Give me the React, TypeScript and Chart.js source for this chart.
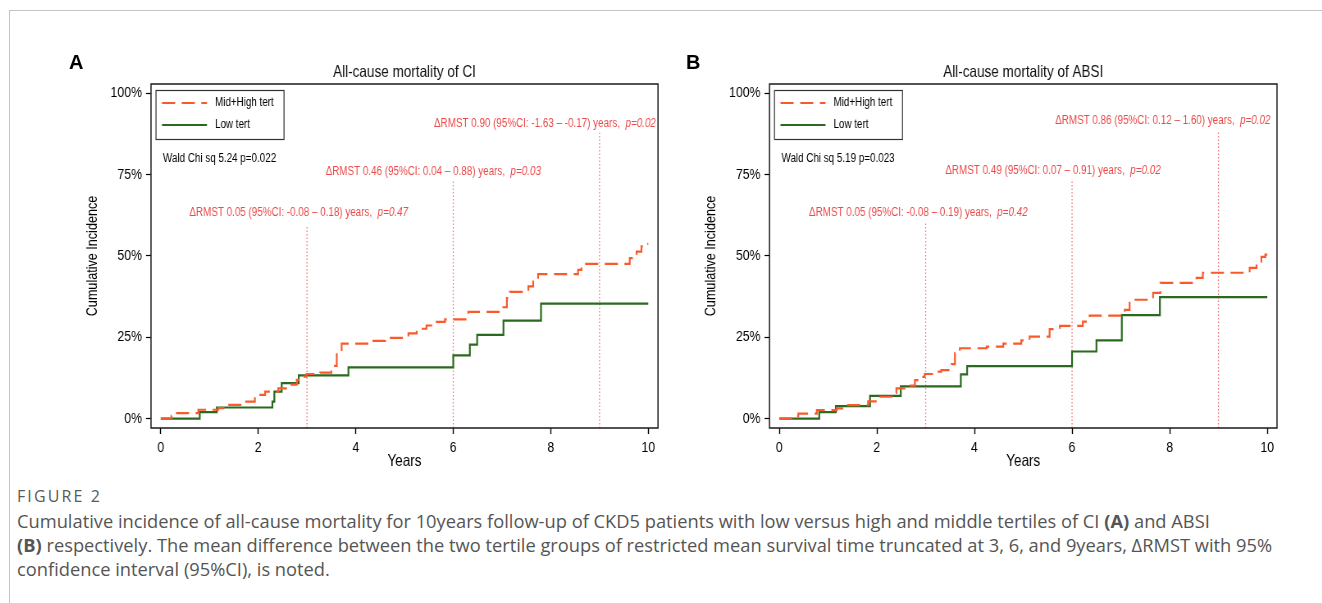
import React, { useEffect, useRef } from "react";
import { Chart, registerables } from "chart.js";
Chart.register(...registerables);

// ---------- data ----------
const xTickValues = [0, 2, 4, 6, 8, 10];
const yTickValues = [0, 25, 50, 75, 100];
const refTimes = [3, 6, 9];

const aHighTimes = [0, 0.22, 0.33, 0.77, 1.18, 1.32, 1.69, 1.93, 2.14, 2.41, 2.62, 2.79, 2.92, 2.99, 3.27, 3.5, 3.61, 3.71, 4.29, 4.6, 5.08, 5.25, 5.45, 5.62, 5.83, 6.31, 6.99, 7.1, 7.16, 7.54, 7.64, 7.74, 8.56, 8.63, 9.62, 9.76, 9.86, 9.97, 10];
const aHighValues = [0, 0.8, 1.7, 2.7, 3.2, 4.2, 5.2, 7.3, 8.3, 9.3, 10.4, 11.9, 12.9, 13.7, 14.1, 16.2, 20.1, 23.0, 23.9, 24.8, 26.2, 27.6, 28.6, 29.7, 30.5, 32.8, 34.2, 37.0, 38.9, 40.6, 42.1, 44.4, 45.7, 47.5, 49.3, 51.3, 52.9, 53.7, 53.7];
const aLowTimes = [0, 0.8, 1.15, 2.29, 2.33, 2.48, 2.83, 3.85, 6.0, 6.34, 6.49, 7.03, 7.8, 10];
const aLowValues = [0, 2.0, 3.4, 5.2, 8.3, 10.9, 13.3, 15.7, 19.4, 22.7, 25.7, 30.1, 35.3, 35.3];
const aRefTops = [59.2, 73.4, 87.8];
const aNoteTexts = ["ΔRMST 0.05 (95%CI: -0.08 – 0.18) years,  ", "ΔRMST 0.46 (95%CI: 0.04 – 0.88) years,  ", "ΔRMST 0.90 (95%CI: -1.63 – -0.17) years,  "];
const aNoteP = ["p=0.47", "p=0.03", "p=0.02"];
const aNoteX = [2.83, 5.59, 7.88];
const aNoteY = [63.2, 75.8, 90.6];

const bHighTimes = [0, 0.25, 0.39, 0.77, 1.18, 1.35, 1.82, 2.03, 2.33, 2.4, 2.64, 2.78, 2.88, 2.98, 3.15, 3.32, 3.53, 3.6, 3.7, 4.25, 4.59, 4.96, 5.13, 5.54, 5.75, 6.22, 6.36, 7.08, 7.18, 7.66, 7.81, 8.55, 8.68, 9.64, 9.78, 9.88, 9.96, 10];
const bHighValues = [0, 0.7, 1.5, 2.6, 3.1, 4.1, 5.3, 6.7, 7.9, 9.3, 10.1, 11.8, 12.8, 13.7, 14.4, 14.9, 16.7, 20.1, 21.6, 22.1, 23.0, 24.0, 25.2, 27.5, 28.5, 29.8, 31.6, 33.4, 36.5, 38.6, 41.7, 43.2, 44.8, 46.3, 48.3, 49.7, 50.4, 50.4];
const bLowTimes = [0, 0.82, 1.16, 1.86, 2.49, 3.72, 3.85, 6.0, 6.5, 7.02, 7.8, 10];
const bLowValues = [0, 2.0, 3.8, 7.0, 9.9, 13.6, 16.1, 20.6, 24.0, 31.8, 37.3, 37.3];
const bRefTops = [60.3, 73.5, 88.0];
const bNoteTexts = ["ΔRMST 0.05 (95%CI: -0.08 – 0.19) years,  ", "ΔRMST 0.49 (95%CI: 0.07 – 0.91) years,  ", "ΔRMST 0.86 (95%CI: 0.12 – 1.60) years,  "];
const bNoteP = ["p=0.42", "p=0.02", "p=0.02"];
const bNoteX = [2.85, 5.61, 7.86];
const bNoteY = [63.2, 76.1, 91.4];

const seriesLabels = ["Mid+High tert", "Low tert"];
const yTitle = "Cumulative Incidence";
const xTitle = "Years";

// ---------- style ----------
// The Stata graph uses a narrow face; the canvas bitmap is drawn wider and
// displayed at K of its width so every glyph is horizontally condensed.
const CANVAS_W = 620;
const CANVAS_H = 445;
const INNER_W = 756;
const K = CANVAS_W / INNER_W;
const FONT = '"Liberation Sans", Arial, sans-serif';
const ORANGE = "#f85a2c";
const GREEN = "#2a6a1f";
const REF = "#f07c7c";
const NOTE = "#ec4a4a";
const X_MIN = -0.2;
const X_MAX = 10.2;
const Y_MIN = -2.9;
const Y_MAX = 102.8;

type Spec = {
  title: string;
  wald: string;
  highT: number[]; highV: number[];
  lowT: number[]; lowV: number[];
  refTops: number[];
  notes: string[]; noteP: string[]; noteX: number[]; noteY: number[];
  padLeft: number; padRight: number; yAxisW: number; // display px
};

function makePlugin(s: Spec, id: string) {
  return {
    id,
    afterDatasetsDraw(chart: any) {
      const { ctx, chartArea: ca, scales } = chart;
      const xs = scales.x, ys = scales.y;
      ctx.save();
      // plot frame
      ctx.strokeStyle = "#1a1a1a";
      ctx.lineWidth = 1.5;
      ctx.setLineDash([]);
      ctx.strokeRect(ca.left, ca.top, ca.right - ca.left, ca.bottom - ca.top);
      ctx.textBaseline = "middle";
      // title
      ctx.font = "16.5px " + FONT;
      ctx.textAlign = "center";
      ctx.fillStyle = "#111";
      ctx.fillText(s.title, (ca.left + ca.right) / 2, ca.top - 12);
      // y axis title (rotated, narrow along its length)
      ctx.save();
      ctx.translate(ca.left - 58 / K, (ca.top + ca.bottom) / 2);
      ctx.rotate(-Math.PI / 2);
      ctx.scale(0.84, 1 / K);
      ctx.font = "15px " + FONT;
      ctx.fillStyle = "#000";
      ctx.fillText(yTitle, 0, 0);
      ctx.restore();
      // legend box
      const bx = ca.left + 5 / K, by = ca.top + 6, bw = 128 / K, bh = 49;
      ctx.fillStyle = "#fff";
      ctx.fillRect(bx, by, bw, bh);
      ctx.strokeStyle = "#333";
      ctx.lineWidth = 1.2;
      ctx.strokeRect(bx, by + 0.5, bw, bh);
      const ds = chart.data.datasets;
      for (let i = 0; i < 2; i++) {
        const ly = by + 13 + i * 22;
        ctx.beginPath();
        ctx.strokeStyle = ds[i].borderColor;
        ctx.lineWidth = ds[i].borderWidth;
        ctx.setLineDash(ds[i].borderDash || []);
        ctx.moveTo(bx + 6 / K, ly);
        ctx.lineTo(bx + 51 / K, ly);
        ctx.stroke();
        ctx.setLineDash([]);
        ctx.fillStyle = "#000";
        ctx.textAlign = "left";
        ctx.font = "12px " + FONT;
        ctx.fillText(ds[i].label, bx + 59 / K, ly);
      }
      // Wald text
      ctx.fillStyle = "#000";
      ctx.font = "12px " + FONT;
      ctx.fillText(s.wald, ca.left + 12 / K, ca.top + 75);
      // RMST notes
      for (let i = 0; i < s.notes.length; i++) {
        ctx.font = "12px " + FONT;
        const w1 = ctx.measureText(s.notes[i]).width;
        ctx.font = "italic 12px " + FONT;
        const w2 = ctx.measureText(s.noteP[i]).width;
        const x0 = xs.getPixelForValue(s.noteX[i]) - (w1 + w2) / 2;
        const y0 = ys.getPixelForValue(s.noteY[i]);
        ctx.fillStyle = NOTE;
        ctx.font = "12px " + FONT;
        ctx.fillText(s.notes[i], x0, y0);
        ctx.font = "italic 12px " + FONT;
        ctx.fillText(s.noteP[i], x0 + w1, y0);
      }
      ctx.restore();
    },
  };
}

function buildConfig(s: Spec, id: string): any {
  const pts = (t: number[], v: number[]) => t.map((x, i) => ({ x, y: v[i] }));
  const refs = refTimes.map((t, i) => ({
    label: "ref" + t,
    data: [{ x: t, y: Y_MIN }, { x: t, y: s.refTops[i] }],
    borderColor: REF,
    borderWidth: 1.3,
    borderDash: [1.5, 2],
    pointRadius: 0,
    fill: false,
  }));
  return {
    type: "line",
    data: {
      datasets: [
        { label: seriesLabels[0], data: pts(s.highT, s.highV), borderColor: ORANGE, borderWidth: 2.2, borderDash: [16, 8], stepped: true, pointRadius: 0, fill: false },
        { label: seriesLabels[1], data: pts(s.lowT, s.lowV), borderColor: GREEN, borderWidth: 2.2, stepped: true, pointRadius: 0, fill: false },
        ...refs,
      ],
    },
    options: {
      animation: false,
      responsive: false,
      devicePixelRatio: 1,
      layout: { padding: { left: s.padLeft / K, right: s.padRight / K, top: 44, bottom: 13.4 } },
      plugins: { legend: { display: false }, tooltip: { enabled: false } },
      scales: {
        x: {
          type: "linear",
          min: X_MIN,
          max: X_MAX,
          afterBuildTicks: (sc: any) => { sc.ticks = xTickValues.map((v) => ({ value: v })); },
          afterFit: (sc: any) => { sc.height = 43.6; },
          grid: { drawOnChartArea: false, drawTicks: true, tickLength: 6, tickColor: "#000", tickWidth: 1.4 },
          border: { display: false },
          ticks: { color: "#000", font: { family: FONT, size: 15 }, padding: 5, maxRotation: 0, autoSkip: false },
          title: { display: true, text: xTitle, color: "#000", font: { family: FONT, size: 16.5 }, padding: 0 },
        },
        y: {
          type: "linear",
          min: Y_MIN,
          max: Y_MAX,
          afterBuildTicks: (sc: any) => { sc.ticks = yTickValues.map((v) => ({ value: v })); },
          afterFit: (sc: any) => { sc.width = s.yAxisW / K; },
          grid: { drawOnChartArea: false, drawTicks: true, tickLength: 5 / K, tickColor: "#000", tickWidth: 1.2 },
          border: { display: false },
          ticks: { color: "#000", font: { family: FONT, size: 15 }, padding: 4 / K, callback: (v: any) => v + "%" },
          title: { display: false },
        },
      },
    },
    plugins: [makePlugin(s, id)],
  };
}

const specA: Spec = {
  title: "All-cause mortality of CI", wald: "Wald Chi sq 5.24 p=0.022",
  highT: aHighTimes, highV: aHighValues, lowT: aLowTimes, lowV: aLowValues, refTops: aRefTops,
  notes: aNoteTexts, noteP: aNoteP, noteX: aNoteX, noteY: aNoteY,
  padLeft: 26.6, padRight: 22, yAxisW: 64.4,
};
const specB: Spec = {
  title: "All-cause mortality of ABSI", wald: "Wald Chi sq 5.19 p=0.023",
  highT: bHighTimes, highV: bHighValues, lowT: bLowTimes, lowV: bLowValues, refTops: bRefTops,
  notes: bNoteTexts, noteP: bNoteP, noteX: bNoteX, noteY: bNoteY,
  padLeft: 25.6, padRight: 23, yAxisW: 63.9,
};

function Panel({ spec, id, left, top }: { spec: Spec; id: string; left: number; top: number }) {
  const ref = useRef<HTMLCanvasElement>(null);
  useEffect(() => {
    const chart = new Chart(ref.current as HTMLCanvasElement, buildConfig(spec, id));
    return () => chart.destroy();
  }, [spec, id]);
  return (
    <canvas ref={ref} width={INNER_W} height={CANVAS_H}
      style={{ position: "absolute", left, top, width: CANVAS_W, height: CANVAS_H }} />
  );
}

const captionFont = '"Open Sans", "Noto Sans", sans-serif';
const letterStyle: React.CSSProperties = { position: "absolute", top: 52, fontFamily: FONT, fontWeight: "bold", fontSize: 20, lineHeight: "20px", color: "#000" };

export default function App() {
  return (
    <div style={{ position: "fixed", left: 0, top: 0, width: 1322, height: 603, background: "#fff", overflow: "hidden" }}>
      <div style={{ position: "absolute", left: 9, top: 10, width: 1313, height: 1, background: "#c4c4c4" }} />
      <div style={{ position: "absolute", left: 9, top: 10, width: 1, height: 593, background: "#c4c4c4" }} />
      <Panel spec={specA} id="panelA" left={60} top={40} />
      <Panel spec={specB} id="panelB" left={680} top={40} />
      <div style={{ ...letterStyle, left: 69 }}>A</div>
      <div style={{ ...letterStyle, left: 686 }}>B</div>
      <div style={{ position: "absolute", left: 17, top: 488, fontFamily: captionFont, fontSize: 16, letterSpacing: 2.1, lineHeight: "16px", color: "#5a5a5a", whiteSpace: "nowrap" }}>FIGURE 2</div>
      <div style={{ position: "absolute", left: 17, top: 509, fontFamily: captionFont, fontSize: 18.3, lineHeight: "24px", color: "#555", whiteSpace: "nowrap" }}>
        <div>Cumulative incidence of all-cause mortality for 10years follow-up of CKD5 patients with low versus high and middle tertiles of CI <b>(A)</b> and ABSI</div>
        <div><b>(B)</b> respectively. The mean difference between the two tertile groups of restricted mean survival time truncated at 3, 6, and 9years, ΔRMST with 95%</div>
        <div>confidence interval (95%CI), is noted.</div>
      </div>
    </div>
  );
}
